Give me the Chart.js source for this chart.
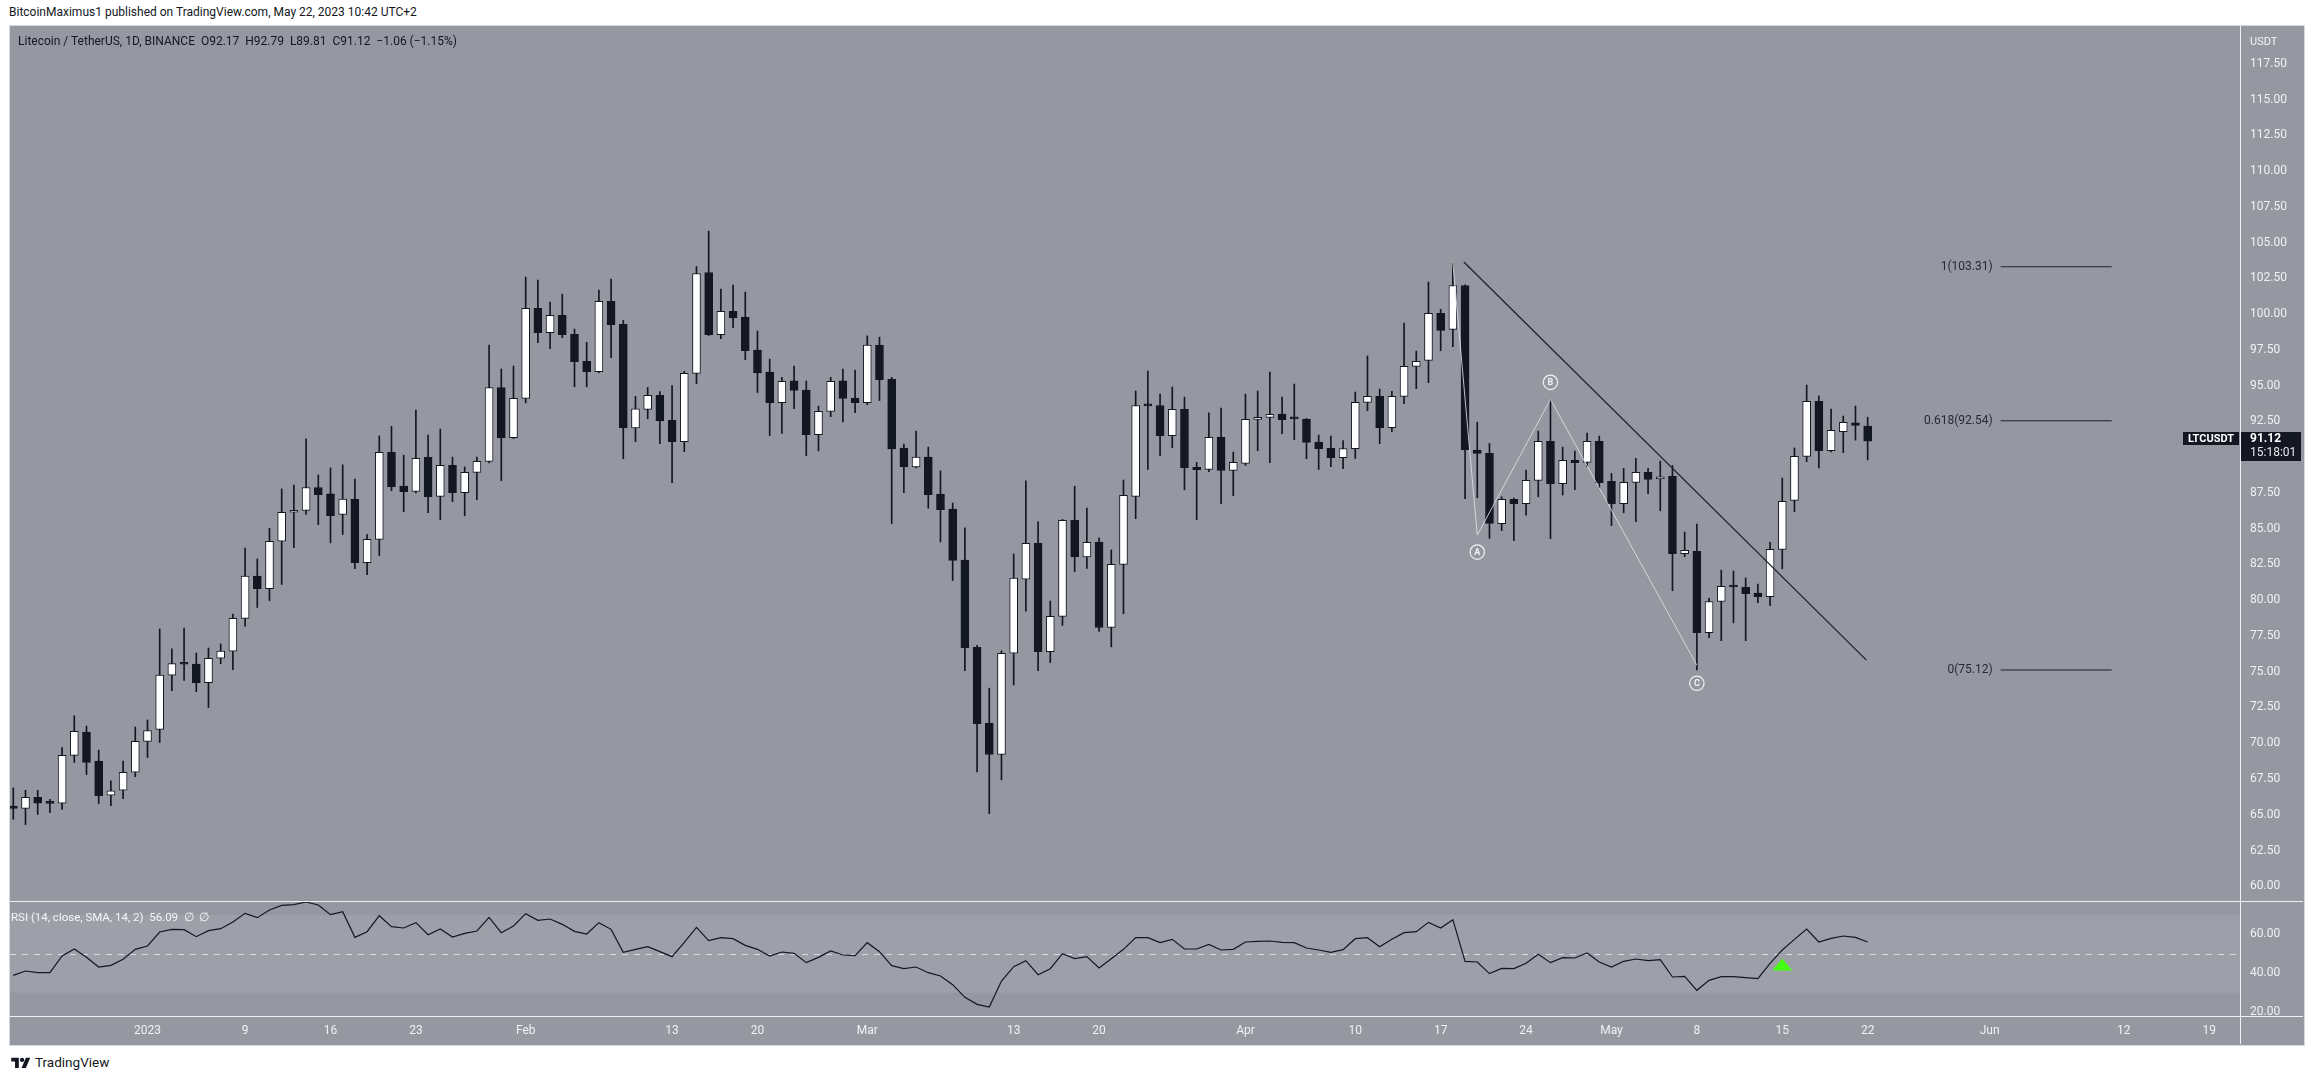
<!DOCTYPE html>
<html>
<head>
<meta charset="utf-8">
<script src="https://cdn.jsdelivr.net/npm/chart.js@4.4.0/dist/chart.umd.min.js"></script>
<style>
html,body{margin:0;padding:0;background:#ffffff;width:2314px;height:1079px;overflow:hidden;font-family:Roboto,"Open Sans",sans-serif;}
.abs{position:absolute;}
#hdr{left:9px;top:5px;font-size:12px;color:#131722;white-space:nowrap;}
#frame{left:9px;top:25px;width:2296px;height:1021px;border:1px solid #d6d9e0;box-sizing:border-box;background:#9598a1;}
#main{left:10px;top:26px;}
#rsi{left:10px;top:902px;}
.sepH{height:1px;background:#eef0f4;left:10px;width:2293px;}
.sepV{width:1px;background:#eef0f4;left:2240px;top:26px;height:1018px;}
#legend{left:18px;top:34px;font-size:12px;color:#131722;white-space:nowrap;}
#rsiLegend{left:11px;top:910px;font-size:11.5px;color:#f4f5f7;white-space:nowrap;}
#usdt{left:2250px;top:35px;font-size:11px;color:#f4f5f7;}
#footer{left:11px;top:1054px;font-size:13.5px;color:#131722;display:flex;align-items:center;gap:4px;}
</style>
</head>
<body>
<div id="hdr" class="abs">BitcoinMaximus1 published on TradingView.com, May 22, 2023 10:42 UTC+2</div>
<div id="frame" class="abs"></div>
<canvas id="main" class="abs" width="2293" height="876"></canvas>
<canvas id="rsi" class="abs" width="2293" height="142"></canvas>
<div class="abs sepH" style="top:901px"></div>
<div class="abs sepH" style="top:1016px"></div>
<div class="abs sepV"></div>
<div id="legend" class="abs">Litecoin / TetherUS, 1D, BINANCE&nbsp;&nbsp;O92.17&nbsp;&nbsp;H92.79&nbsp;&nbsp;L89.81&nbsp;&nbsp;C91.12&nbsp;&nbsp;−1.06 (−1.15%)</div>
<div id="rsiLegend" class="abs">RSI (14, close, SMA, 14, 2)&nbsp;&nbsp;56.09&nbsp;&nbsp;∅&nbsp;&nbsp;∅</div>
<div id="usdt" class="abs">USDT</div>
<div id="footer" class="abs">
<svg width="20" height="13" viewBox="0 0 36 24"><path d="M14 22H7V10H0V3h14z" fill="#131722"/><circle cx="20" cy="7" r="4" fill="#131722"/><path d="M27 22h-8l8-19h8z" fill="#131722"/></svg>
<span>TradingView</span>
</div>

<script>
// ---- DATA (day index 0 = 2022-12-21, daily candles LTC/USDT) ----
const opens = [
65.60,65.44,66.21,65.84,65.81,69.15,70.78,68.76,66.37,66.71,67.97,70.13,70.97,74.76,75.57,75.54,74.23,75.94,76.44,78.73,
81.68,80.81,84.12,86.15,86.28,87.88,87.43,85.99,87.07,82.62,84.25,90.33,87.98,87.60,89.98,87.26,89.42,87.51,88.93,89.70,
94.87,91.36,94.11,100.40,98.70,99.91,98.58,96.69,95.97,100.89,99.28,92.05,93.34,94.32,92.57,91.08,95.85,102.91,98.56,100.19,
99.79,97.49,95.95,93.81,95.33,94.69,91.57,93.20,95.33,94.12,93.81,97.83,95.44,90.64,89.32,90.00,87.41,86.37,82.81,76.71,
71.40,69.21,76.29,81.46,83.98,76.40,78.87,85.59,83.03,84.07,78.09,82.50,87.26,93.62,93.61,91.50,93.34,89.28,89.14,91.40,
89.07,89.56,92.64,92.78,93.01,92.71,92.66,91.05,90.61,89.96,90.59,93.83,94.25,92.06,94.25,96.35,96.76,100.05,98.93,102.00,
90.49,90.26,85.35,87.05,86.74,88.37,91.10,88.14,89.77,89.63,91.10,88.30,86.74,88.23,88.93,88.47,88.65,83.25,83.41,77.73,
79.91,80.96,80.90,80.50,80.24,83.55,86.98,90.05,93.90,90.45,91.78,92.40,92.17];
const highs = [
66.87,66.71,66.71,66.08,69.70,71.92,71.20,69.52,67.37,68.76,71.13,71.63,77.99,76.60,78.05,76.31,76.65,76.94,79.02,83.65,
82.89,85.02,87.78,88.04,91.28,88.75,89.25,89.46,88.46,84.59,91.49,92.15,90.14,93.29,91.54,91.96,90.00,89.31,90.00,97.83,
96.16,96.37,102.59,102.38,100.84,101.40,98.95,98.02,101.68,102.45,99.56,94.25,94.87,94.59,95.01,95.99,103.33,105.80,101.75,102.03,
101.54,98.81,96.85,95.58,96.37,95.33,93.56,95.58,96.15,96.09,98.48,98.39,95.58,90.92,91.82,90.70,89.04,86.79,85.05,76.85,
73.85,76.46,83.23,88.34,85.47,79.94,85.65,87.97,86.43,84.35,83.51,88.40,94.62,96.02,94.41,94.90,94.20,89.63,93.10,93.43,
90.35,94.41,94.62,95.95,94.20,95.11,92.70,91.54,91.47,91.15,94.55,97.07,94.76,94.60,99.37,97.41,102.24,100.33,103.54,102.05,
92.45,90.96,87.23,87.14,89.10,91.82,93.99,90.70,90.43,91.68,91.47,88.86,89.21,89.91,89.21,89.72,89.42,84.76,85.32,80.15,
82.10,82.04,81.55,81.13,84.04,88.54,90.64,95.04,94.29,93.36,92.87,93.57,92.79];
const lows = [
64.68,64.31,65.02,65.15,65.37,68.65,67.81,65.78,65.63,66.13,67.66,69.00,70.05,73.68,74.39,73.60,72.50,75.55,75.15,78.18,
79.49,79.97,81.10,83.67,85.99,85.28,84.01,84.59,82.20,81.78,83.12,87.65,86.18,87.50,86.11,85.62,86.88,85.90,87.02,89.60,
88.35,91.30,93.80,98.00,97.58,98.35,94.92,94.92,95.90,96.95,89.89,91.08,92.68,90.94,88.21,90.38,95.13,98.50,98.28,99.05,
96.81,94.52,91.51,91.65,93.39,90.11,90.44,92.83,92.47,93.11,93.67,93.96,85.36,87.52,89.25,86.43,84.07,81.37,75.08,68.00,
65.08,67.44,74.07,79.24,75.08,75.64,78.23,81.99,82.22,77.81,76.74,79.05,85.70,89.14,90.10,90.66,87.72,85.62,88.98,86.74,
87.30,89.42,90.45,89.61,91.64,91.22,89.89,89.14,89.33,89.19,89.90,93.25,90.94,91.78,93.73,94.79,95.20,97.44,97.72,87.09,
87.16,84.32,84.86,84.16,85.95,87.23,84.30,87.35,87.72,89.33,87.86,85.21,86.11,85.49,87.44,86.25,80.66,83.04,75.12,77.38,
77.17,78.42,77.17,79.82,79.61,82.20,86.19,89.68,89.24,90.36,90.31,91.19,89.81];
const closes = [
65.44,66.21,65.81,65.80,69.15,70.84,68.65,66.34,66.68,67.97,70.13,70.89,74.76,75.57,75.52,74.23,75.94,76.44,78.73,81.68,
80.81,84.12,86.15,86.28,87.88,87.38,85.91,87.07,82.62,84.25,90.33,87.93,87.58,89.91,87.23,89.42,87.51,88.93,89.70,94.87,
91.36,94.11,100.40,98.70,99.91,98.56,96.67,95.97,100.89,99.26,92.05,93.38,94.32,92.54,91.08,95.85,102.84,98.56,100.19,99.74,
97.44,95.89,93.81,95.30,94.66,91.57,93.20,95.30,94.10,93.81,97.83,95.42,90.58,89.32,90.00,87.38,86.32,82.78,76.68,71.37,
69.21,76.29,81.54,83.98,76.40,78.87,85.59,83.03,84.04,78.09,82.50,87.33,93.61,93.58,91.50,93.34,89.26,89.12,91.38,89.07,
89.63,92.64,92.78,92.99,92.62,92.67,91.03,90.59,89.96,90.59,93.83,94.25,92.06,94.25,96.35,96.69,100.05,98.86,102.00,90.52,
90.26,85.37,87.05,86.74,88.37,91.10,88.14,89.77,89.61,91.10,88.21,86.74,88.23,88.93,88.44,88.63,83.25,83.48,77.73,79.91,
80.96,80.92,80.45,80.24,83.55,86.91,90.05,93.90,90.45,91.87,92.43,92.21,91.12];
const rsiValues = [
38.94,41.17,40.31,40.31,48.89,52.49,48.20,43.23,44.09,47.18,52.32,54.04,61.25,62.62,62.45,58.84,61.93,62.96,66.39,70.86,
68.63,72.57,74.97,75.32,76.69,75.15,70.17,71.71,58.50,61.42,69.65,63.99,63.31,66.05,59.87,62.79,58.67,60.56,61.76,68.80,
60.90,64.34,70.68,67.25,67.94,65.19,61.59,60.22,66.05,62.62,50.78,52.32,53.70,51.12,48.55,55.93,63.65,56.78,58.33,57.81,
54.38,52.32,48.89,50.95,50.26,45.46,48.20,51.47,49.41,49.06,55.76,51.12,43.91,42.37,43.23,40.31,38.60,34.13,27.61,24.01,
22.64,36.02,43.40,46.49,39.28,42.37,50.09,47.52,48.55,42.71,47.52,52.32,58.33,58.33,55.76,57.47,52.49,52.49,54.90,51.98,
52.32,56.10,56.44,56.61,55.93,55.76,53.01,51.98,50.78,52.15,57.81,58.33,53.70,57.47,60.90,61.42,66.22,63.31,67.60,46.15,
45.80,39.80,42.54,42.37,45.12,49.75,45.46,48.03,47.86,50.44,45.80,43.23,46.15,47.35,46.49,47.00,38.08,38.42,31.22,36.36,
38.25,38.25,37.74,37.22,45.12,51.98,57.47,62.79,56.10,57.99,59.19,58.50,56.09];

// x-axis ticks (day index) and labels
const tickDays   = [11, 19, 26, 33, 42, 54, 61, 70, 82, 89, 101, 110, 117, 124, 131, 138, 145, 152, 162, 173, 180];
const tickLabels = ['2023','9','16','23','Feb','13','20','Mar','13','20','Apr','10','17','24','May','8','15','22','Jun','12','19'];
const priceTicks = [60,62.5,65,67.5,70,72.5,75,77.5,80,82.5,85,87.5,90,92.5,95,97.5,100,102.5,105,107.5,110,112.5,115,117.5];
const rsiTicks = [20, 40, 60];

// drawings (in day-index / price space)
const trendDays = [118.9, 151.9];
const trendPrices = [103.64, 75.81];
const waveDays = [118, 120, 126, 138];
const wavePrices = [103.6, 84.55, 94.04, 75.45];
const waveNames = ['A', 'B', 'C'];
const fibLevels = [103.31, 92.54, 75.12];
const fibNames = ['1(103.31)', '0.618(92.54)', '0(75.12)'];
const fibDays = [162.9, 172.0];
const signalDay = 145;
const signalRsi = 44.3;
const lastPrice = 91.12;

// ---- build ----
const DARK = '#131722';
const X_MIN = -0.27, X_MAX = 182.52;
Chart.defaults.font.family = 'Roboto, "Open Sans", sans-serif';

const idx = opens.map((_, i) => i);
const wickData = idx.map(i => ({x: i, y: [lows[i], highs[i]]}));
const bodyData = idx.map(i => ({x: i, y: [opens[i], closes[i]]}));
const bodyColors = idx.map(i => closes[i] >= opens[i] ? '#ffffff' : DARK);
const trendData = trendDays.map((d, k) => ({x: d, y: trendPrices[k]}));
const waveData = waveDays.map((d, k) => ({x: d, y: wavePrices[k]}));
const fibSets = fibLevels.map(lv => ({
  type: 'line', data: fibDays.map(d => ({x: d, y: lv})),
  borderColor: '#1e222d', borderWidth: 1, pointRadius: 0, order: -1
}));
const rsiData = idx.map(i => ({x: i, y: rsiValues[i]}));

function fixV(s) { s.width = 63; s.paddingTop = 0; s.paddingBottom = 0; }
function fixH(h) { return s => { s.height = h; s.paddingLeft = 0; s.paddingRight = 0; }; }

const annotPlugin = {
  id: 'annot',
  afterDatasetsDraw(chart) {
    const {ctx} = chart; const xs = chart.scales.x, ys = chart.scales.y;
    ctx.save();
    ctx.font = '12px Roboto, sans-serif';
    ctx.fillStyle = '#262a35';
    ctx.textAlign = 'right'; ctx.textBaseline = 'middle';
    fibLevels.forEach((lv, k) => ctx.fillText(fibNames[k], xs.getPixelForValue(fibDays[0]) - 8, ys.getPixelForValue(lv)));
    const offs = [17, -17, 18];
    waveNames.forEach((nm, k) => {
      const px = xs.getPixelForValue(waveDays[k + 1]);
      const py = ys.getPixelForValue(wavePrices[k + 1]) + offs[k];
      ctx.beginPath(); ctx.arc(px, py, 7.2, 0, Math.PI * 2);
      ctx.strokeStyle = '#f2f3f6'; ctx.lineWidth = 1.2; ctx.stroke();
      ctx.fillStyle = '#f2f3f6'; ctx.font = 'bold 9px Roboto, sans-serif';
      ctx.textAlign = 'center'; ctx.fillText(nm, px, py + 0.5);
    });
    ctx.restore();
  },
  afterDraw(chart) {
    const {ctx, chartArea} = chart; const ys = chart.scales.y;
    const py = Math.round(ys.getPixelForValue(lastPrice));
    const r = chartArea.right;
    ctx.save();
    ctx.fillStyle = DARK;
    ctx.fillRect(r - 57, py - 9, 56, 13);
    ctx.fillRect(r, py - 9, 61, 29);
    ctx.fillStyle = '#ffffff';
    ctx.font = 'bold 11px Roboto, sans-serif';
    ctx.textAlign = 'center'; ctx.textBaseline = 'middle';
    ctx.fillText('LTCUSDT', r - 29, py - 2);
    ctx.textAlign = 'left';
    ctx.font = 'bold 12px Roboto, sans-serif';
    ctx.fillText(lastPrice.toFixed(2), r + 10, py - 2);
    ctx.font = '12px Roboto, sans-serif';
    ctx.fillStyle = '#e8e9ed';
    ctx.fillText('15:18:01', r + 10, py + 12);
    ctx.restore();
  }
};

new Chart(document.getElementById('main'), {
  type: 'bar',
  data: {
    datasets: [
      {type: 'line', data: trendData, borderColor: '#1e222d', borderWidth: 1.3, pointRadius: 0, order: -2},
      {type: 'line', data: waveData, borderColor: 'rgba(222,224,230,0.85)', borderWidth: 1, pointRadius: 0, order: -1},
      ...fibSets,
      {type: 'bar', data: bodyData, backgroundColor: bodyColors, borderColor: DARK, borderWidth: 1,
       borderSkipped: false, barThickness: 8, minBarLength: 2, grouped: false, order: 0},
      {type: 'bar', data: wickData, backgroundColor: DARK, borderWidth: 0, barThickness: 1, grouped: false, order: 1}
    ]
  },
  options: {
    responsive: false, animation: false, devicePixelRatio: 1,
    layout: {padding: 0, autoPadding: false},
    plugins: {legend: {display: false}, tooltip: {enabled: false}},
    scales: {
      x: {type: 'linear', min: X_MIN, max: X_MAX, offset: false, bounds: 'data', display: false, grid: {offset: false}},
      y: {
        type: 'linear', position: 'right', min: 58.90, max: 120.14, offset: false, beginAtZero: false, grace: 0,
        grid: {display: false, drawTicks: false, offset: false}, border: {display: false},
        afterFit: fixV,
        afterBuildTicks: s => { s.ticks = priceTicks.map(v => ({value: v})); },
        ticks: {color: '#f0f1f4', font: {size: 12}, padding: 10, callback: v => Number(v).toFixed(2)}
      }
    }
  },
  plugins: [annotPlugin]
});

const rsiPlugin = {
  id: 'rsiBand',
  beforeDatasetsDraw(chart) {
    const {ctx, chartArea} = chart; const ys = chart.scales.y;
    const y70 = ys.getPixelForValue(70), y30 = ys.getPixelForValue(30), y50 = ys.getPixelForValue(50);
    ctx.save();
    ctx.fillStyle = 'rgba(255,255,255,0.08)';
    ctx.fillRect(chartArea.left, y70, chartArea.right - chartArea.left, y30 - y70);
    ctx.strokeStyle = 'rgba(225,227,233,0.85)'; ctx.lineWidth = 1; ctx.setLineDash([6, 6]);
    ctx.beginPath(); ctx.moveTo(chartArea.left, Math.round(y50) + 0.5); ctx.lineTo(chartArea.right - 3, Math.round(y50) + 0.5); ctx.stroke();
    ctx.restore();
  },
  afterDatasetsDraw(chart) {
    const {ctx} = chart; const ys = chart.scales.y; const xs = chart.scales.x;
    const px = xs.getPixelForValue(signalDay), py = ys.getPixelForValue(signalRsi);
    ctx.save();
    ctx.fillStyle = '#44ff11';
    ctx.beginPath(); ctx.moveTo(px, py - 6.5); ctx.lineTo(px + 10, py + 5.5); ctx.lineTo(px - 10, py + 5.5); ctx.closePath(); ctx.fill();
    ctx.restore();
  }
};

new Chart(document.getElementById('rsi'), {
  type: 'line',
  data: {datasets: [{data: rsiData, borderColor: DARK, borderWidth: 1.2, pointRadius: 0, tension: 0}]},
  options: {
    responsive: false, animation: false, devicePixelRatio: 1,
    layout: {padding: 0, autoPadding: false},
    plugins: {legend: {display: false}, tooltip: {enabled: false}},
    scales: {
      x: {
        type: 'linear', min: X_MIN, max: X_MAX, offset: false,
        grid: {display: false, drawTicks: false}, border: {display: false},
        afterFit: fixH(28),
        afterBuildTicks: s => { s.ticks = tickDays.map(v => ({value: v})); },
        ticks: {color: '#f0f1f4', font: {size: 12}, padding: 8, maxRotation: 0, autoSkip: false,
                callback: (v, i) => tickLabels[i]}
      },
      y: {
        position: 'right', min: 18.0, max: 76.7, offset: false,
        grid: {display: false, drawTicks: false}, border: {display: false},
        afterFit: fixV,
        afterBuildTicks: s => { s.ticks = rsiTicks.map(v => ({value: v})); },
        ticks: {color: '#f0f1f4', font: {size: 12}, padding: 10, callback: v => Number(v).toFixed(2)}
      }
    }
  },
  plugins: [rsiPlugin]
});
</script>
</body>
</html>
